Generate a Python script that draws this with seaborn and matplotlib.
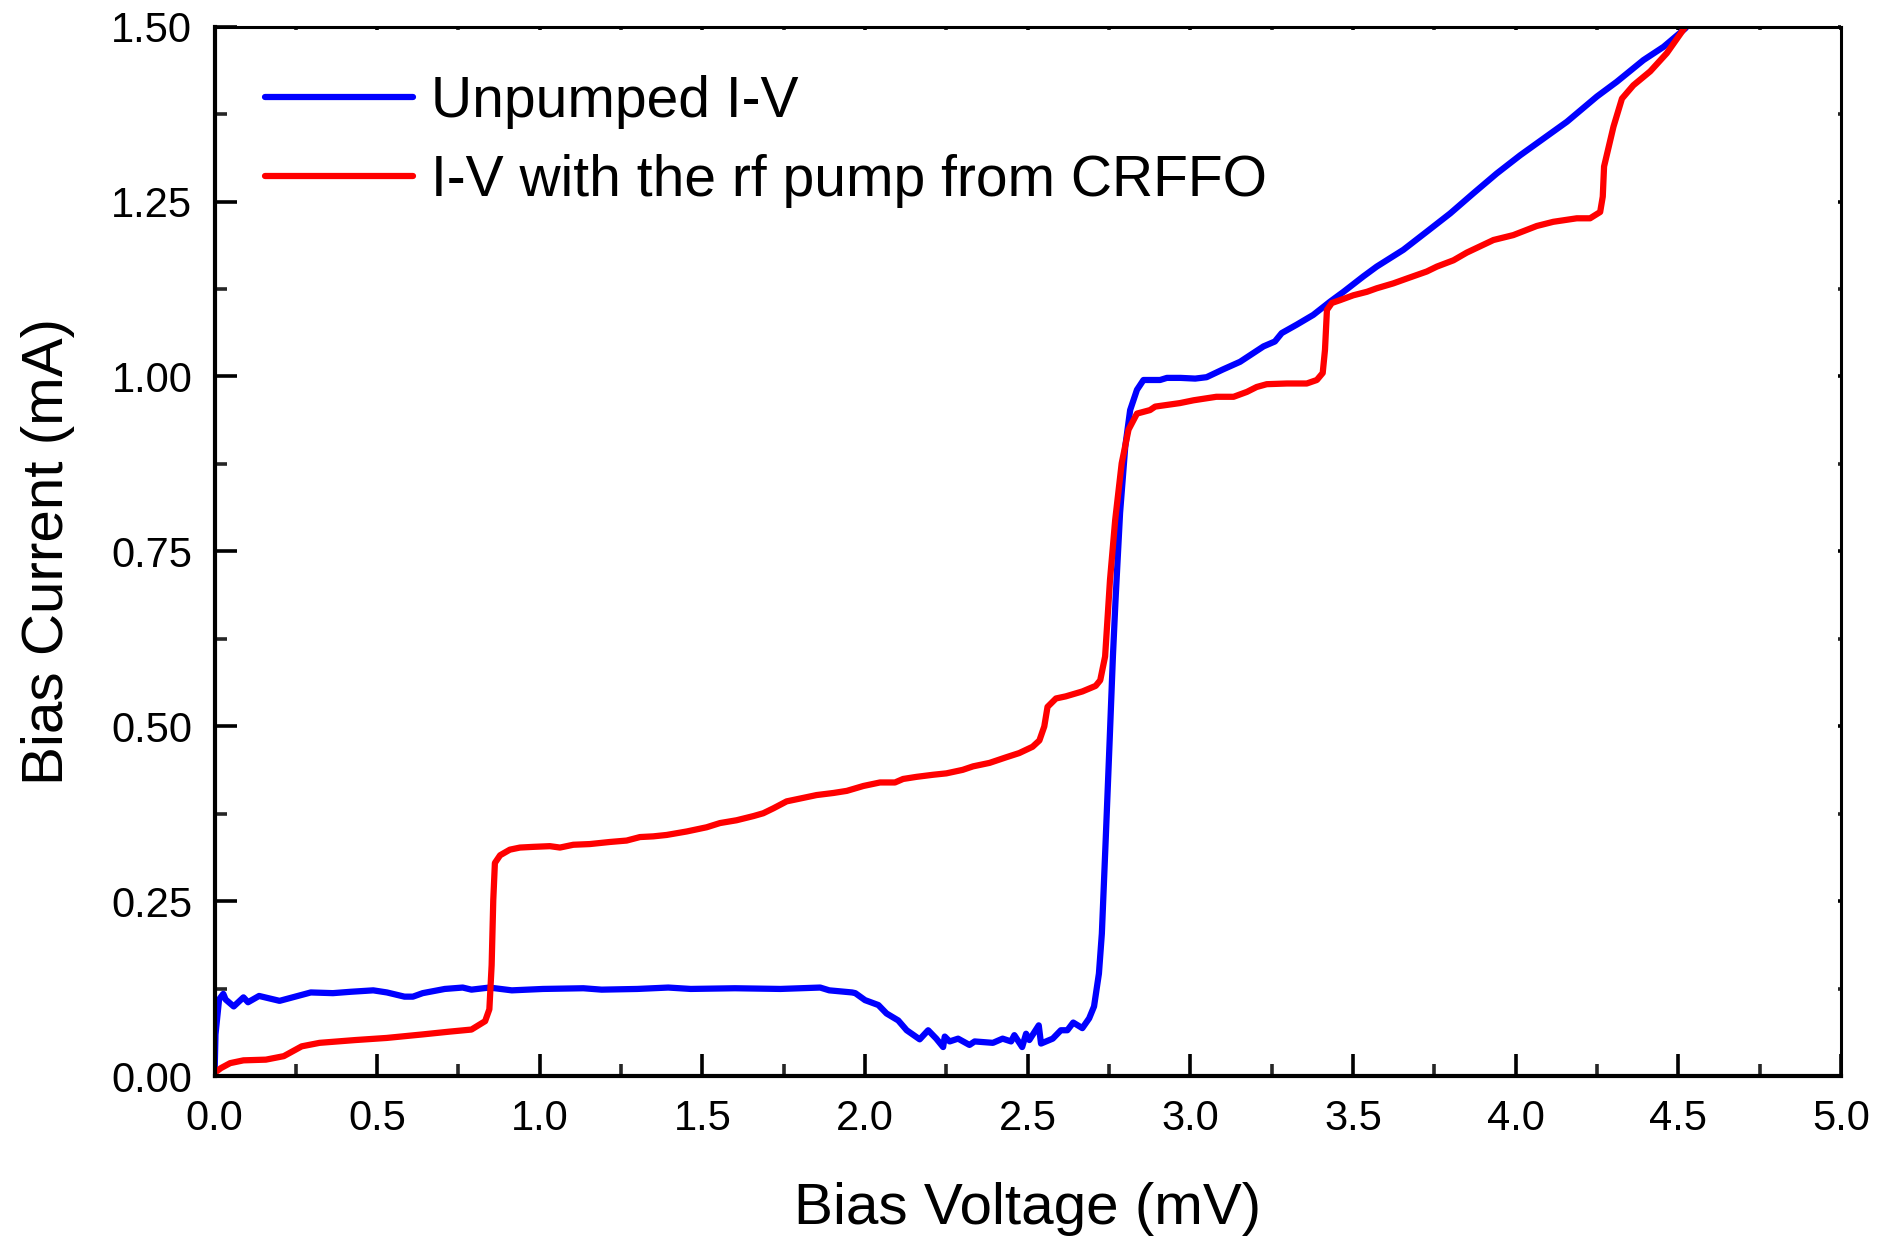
import matplotlib
matplotlib.use("Agg")
import matplotlib.pyplot as plt
import seaborn as sns
import numpy as np
from matplotlib.ticker import MultipleLocator

# ---- data ----
blue_v = [0.000, 0.003, 0.014, 0.027, 0.034, 0.059, 0.089, 0.103, 0.137, 0.200, 0.240, 0.296,
          0.364, 0.420, 0.488, 0.530, 0.584, 0.610, 0.640, 0.708, 0.763, 0.790, 0.845, 0.914,
          1.010, 1.134, 1.190, 1.300, 1.395, 1.464, 1.600, 1.740, 1.862, 1.890, 1.960, 1.970,
          2.000, 2.041, 2.066, 2.102, 2.128, 2.168, 2.194, 2.219, 2.240, 2.245, 2.260, 2.286,
          2.321, 2.337, 2.393, 2.423, 2.449, 2.459, 2.483, 2.495, 2.505, 2.534, 2.541, 2.577,
          2.602, 2.622, 2.640, 2.668, 2.689, 2.704, 2.719, 2.728, 2.740, 2.752, 2.762, 2.770,
          2.784, 2.800, 2.815, 2.836, 2.856, 2.907, 2.928, 2.970, 3.015, 3.050, 3.100, 3.153,
          3.225, 3.260, 3.281, 3.327, 3.378, 3.430, 3.471, 3.532, 3.573, 3.655, 3.730, 3.799,
          3.871, 3.942, 4.014, 4.086, 4.158, 4.250, 4.311, 4.393, 4.455, 4.521, 4.530]
blue_i = [0.000, 0.060, 0.110, 0.118, 0.110, 0.100, 0.113, 0.106, 0.115, 0.108, 0.113, 0.120,
          0.119, 0.121, 0.123, 0.120, 0.114, 0.114, 0.119, 0.125, 0.127, 0.124, 0.127, 0.123,
          0.125, 0.126, 0.124, 0.125, 0.127, 0.125, 0.126, 0.125, 0.127, 0.123, 0.120, 0.119,
          0.109, 0.102, 0.090, 0.080, 0.066, 0.053, 0.066, 0.054, 0.042, 0.057, 0.050, 0.054,
          0.045, 0.050, 0.048, 0.054, 0.050, 0.059, 0.042, 0.061, 0.052, 0.073, 0.047, 0.054,
          0.066, 0.066, 0.077, 0.069, 0.083, 0.100, 0.147, 0.204, 0.340, 0.480, 0.600, 0.680,
          0.805, 0.900, 0.952, 0.981, 0.995, 0.995, 0.998, 0.998, 0.997, 0.999, 1.010, 1.021,
          1.043, 1.050, 1.062, 1.074, 1.088, 1.107, 1.121, 1.143, 1.157, 1.181, 1.208, 1.233,
          1.262, 1.290, 1.316, 1.340, 1.364, 1.400, 1.421, 1.452, 1.471, 1.497, 1.502]

red_v = [0.000, 0.020, 0.048, 0.089, 0.158, 0.213, 0.268, 0.323, 0.433, 0.529, 0.639, 0.722,
         0.790, 0.832, 0.845, 0.852, 0.857, 0.862, 0.878, 0.908, 0.939, 0.980, 1.031, 1.062,
         1.103, 1.154, 1.216, 1.267, 1.308, 1.349, 1.390, 1.452, 1.513, 1.554, 1.605, 1.657,
         1.687, 1.718, 1.759, 1.800, 1.851, 1.903, 1.944, 1.995, 2.046, 2.092, 2.117, 2.158,
         2.209, 2.250, 2.300, 2.332, 2.383, 2.434, 2.474, 2.515, 2.536, 2.551, 2.561, 2.587,
         2.617, 2.668, 2.709, 2.723, 2.738, 2.753, 2.769, 2.789, 2.810, 2.836, 2.876, 2.892,
         2.968, 3.010, 3.080, 3.133, 3.174, 3.204, 3.235, 3.297, 3.358, 3.389, 3.407, 3.414,
         3.420, 3.435, 3.460, 3.501, 3.543, 3.573, 3.624, 3.666, 3.727, 3.758, 3.809, 3.850,
         3.932, 3.993, 4.065, 4.116, 4.188, 4.229, 4.260, 4.268, 4.272, 4.301, 4.327, 4.362,
         4.414, 4.465, 4.521]
red_i = [0.005, 0.012, 0.019, 0.023, 0.024, 0.029, 0.043, 0.048, 0.052, 0.055, 0.060, 0.064,
         0.067, 0.079, 0.096, 0.159, 0.252, 0.305, 0.316, 0.324, 0.327, 0.328, 0.329, 0.327,
         0.331, 0.332, 0.335, 0.337, 0.342, 0.343, 0.345, 0.350, 0.356, 0.362, 0.366, 0.372,
         0.376, 0.383, 0.393, 0.397, 0.402, 0.405, 0.408, 0.415, 0.420, 0.420, 0.425, 0.428,
         0.431, 0.433, 0.438, 0.443, 0.448, 0.456, 0.462, 0.471, 0.480, 0.500, 0.528, 0.540,
         0.543, 0.550, 0.558, 0.566, 0.600, 0.709, 0.795, 0.876, 0.924, 0.947, 0.952, 0.957,
         0.962, 0.966, 0.971, 0.971, 0.978, 0.985, 0.989, 0.990, 0.990, 0.995, 1.005, 1.038,
         1.095, 1.105, 1.109, 1.116, 1.121, 1.126, 1.133, 1.140, 1.150, 1.157, 1.166, 1.177,
         1.195, 1.202, 1.215, 1.221, 1.226, 1.226, 1.235, 1.257, 1.300, 1.357, 1.397, 1.416,
         1.436, 1.462, 1.499]

labels = ["Unpumped I-V", "I-V with the rf pump from CRFFO"]
x_ticks = [0.0, 0.5, 1.0, 1.5, 2.0, 2.5, 3.0, 3.5, 4.0, 4.5, 5.0]
y_ticks = [0.00, 0.25, 0.50, 0.75, 1.00, 1.25, 1.50]

sns.set_style("white")
plt.rcParams["font.family"] = ["Liberation Sans", "DejaVu Sans"]
plt.rcParams["text.color"] = "black"
plt.rcParams["axes.labelcolor"] = "black"

fig = plt.figure(figsize=(18.9, 12.39), dpi=100)
ax = fig.add_axes([0.1135, 0.1312, 0.8605, 0.8474])

sns.lineplot(x=blue_v, y=blue_i, ax=ax, color="#0000FF", lw=4.5, label=labels[0],
             sort=False, estimator=None)
sns.lineplot(x=red_v, y=red_i, ax=ax, color="#FF0000", lw=4.5, label=labels[1],
             sort=False, estimator=None)

ax.set_xlim(0, 5.0)
ax.set_ylim(0, 1.5)
ax.set_xticks(x_ticks)
ax.set_xticklabels([f"{v:.1f}" for v in x_ticks])
ax.set_yticks(y_ticks)
ax.set_yticklabels([f"{v:.2f}" for v in y_ticks])
ax.xaxis.set_minor_locator(MultipleLocator(0.25))
ax.yaxis.set_minor_locator(MultipleLocator(0.125))

for s in ["left", "bottom"]:
    ax.spines[s].set_linewidth(3.0)
for s in ["top", "right"]:
    ax.spines[s].set_linewidth(2.2)
for s in ax.spines.values():
    s.set_color("black")

ax.tick_params(axis="both", which="major", direction="in", length=16, width=2.6,
               labelsize=30, pad=16, colors="black", labelcolor="black",
               bottom=True, left=True, top=True, right=True)
ax.tick_params(axis="both", which="minor", direction="in", length=8.5, width=2.6,
               bottom=True, left=True, top=True, right=True)
ax.tick_params(axis="x", which="both", labeltop=False)
ax.tick_params(axis="y", which="both", labelright=False)
# tiny marks on the top/right axes
for t in ax.xaxis.get_major_ticks() + ax.xaxis.get_minor_ticks():
    t.tick2line.set_markersize(2.5)
for t in ax.yaxis.get_major_ticks() + ax.yaxis.get_minor_ticks():
    t.tick2line.set_markersize(2.5)

ax.set_xlabel("Bias Voltage (mV)", fontsize=42, labelpad=31, color="black")
ax.set_ylabel("Bias Current (mA)", fontsize=42, labelpad=26, color="black")

leg = ax.legend(loc="upper left", bbox_to_anchor=(0.031, 0.9535), frameon=False,
                fontsize=41, handlelength=2.6, handletextpad=0.32, labelspacing=0.44,
                borderpad=0, borderaxespad=0)
for h in leg.get_lines():
    h.set_linewidth(4.5)
for t in leg.get_texts():
    t.set_color("black")

fig.savefig("out.png", dpi=100)
